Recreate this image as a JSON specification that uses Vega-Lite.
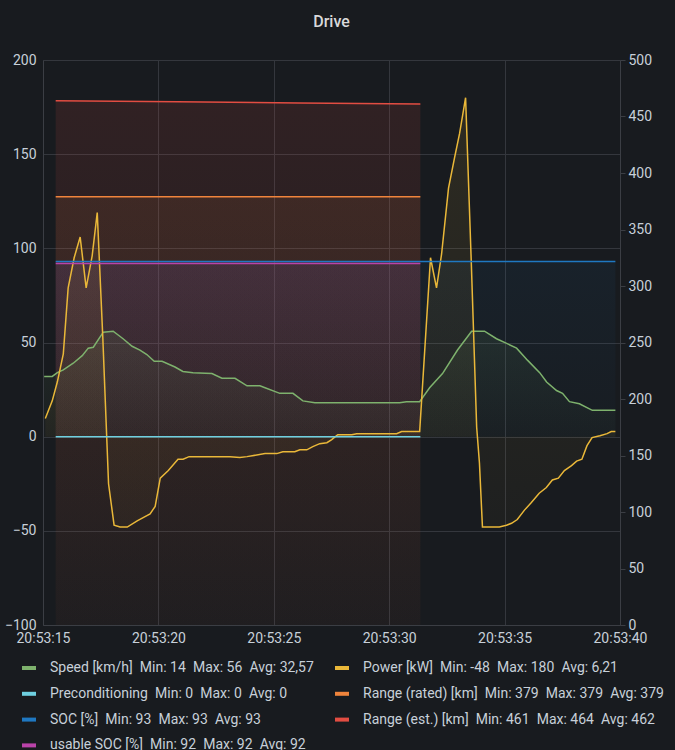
{
  "$schema": "https://vega.github.io/schema/vega-lite/v6.json",
  "width": 577,
  "height": 565,
  "autosize": "none",
  "padding": {"left": 43, "top": 60, "right": 55, "bottom": 125},
  "background": "#181b1f",
  "title": {"text": "Drive", "anchor": "middle", "fontSize": 16, "fontWeight": 500, "color": "#d8d9da", "font": "Roboto", "offset": 23},
  "config": {
    "view": {"stroke": null},
    "axis": {"labelFont": "Roboto", "labelFontSize": 14, "labelColor": "#c7d0d9", "gridColor": "#34373d", "domainColor": "#3b3e44", "tickColor": "#3b3e44", "title": null},
    "legend": {"labelFont": "Roboto", "labelFontSize": 14, "labelColor": "#c7d0d9"}
  },
  "data": {"values": [
    {"s":"speed","t":15.05,"v":32},{"s":"speed","t":15.40,"v":32},{"s":"speed","t":15.62,"v":34},{"s":"speed","t":15.88,"v":35.5},{"s":"speed","t":16.31,"v":39},{"s":"speed","t":16.70,"v":43},{"s":"speed","t":16.96,"v":47},{"s":"speed","t":17.18,"v":47.5},{"s":"speed","t":17.61,"v":55.5},{"s":"speed","t":18.04,"v":56},{"s":"speed","t":18.47,"v":52},{"s":"speed","t":18.86,"v":48},{"s":"speed","t":19.20,"v":46},{"s":"speed","t":19.50,"v":43.6},{"s":"speed","t":19.82,"v":40},{"s":"speed","t":20.16,"v":40},{"s":"speed","t":20.72,"v":37},{"s":"speed","t":21.06,"v":34.6},{"s":"speed","t":21.50,"v":34},{"s":"speed","t":22.32,"v":33.5},{"s":"speed","t":22.75,"v":31},{"s":"speed","t":23.32,"v":31},{"s":"speed","t":23.84,"v":27},{"s":"speed","t":24.40,"v":27},{"s":"speed","t":24.62,"v":26},{"s":"speed","t":25.26,"v":23},{"s":"speed","t":25.83,"v":23},{"s":"speed","t":26.26,"v":19},{"s":"speed","t":26.78,"v":18},{"s":"speed","t":30.45,"v":18},{"s":"speed","t":30.75,"v":18.6},{"s":"speed","t":31.32,"v":18.6},{"s":"speed","t":31.75,"v":26},{"s":"speed","t":32.31,"v":33.5},{"s":"speed","t":32.96,"v":46},{"s":"speed","t":33.57,"v":56},{"s":"speed","t":34.13,"v":56},{"s":"speed","t":34.65,"v":52},{"s":"speed","t":35.09,"v":49.5},{"s":"speed","t":35.52,"v":47},{"s":"speed","t":36.00,"v":40.5},{"s":"speed","t":36.52,"v":34},{"s":"speed","t":36.82,"v":29},{"s":"speed","t":37.25,"v":24.5},{"s":"speed","t":37.51,"v":23},{"s":"speed","t":37.81,"v":18.6},{"s":"speed","t":38.24,"v":17.5},{"s":"speed","t":38.80,"v":14},{"s":"speed","t":39.80,"v":14},
    {"s":"power","t":15.10,"v":9.6},{"s":"power","t":15.40,"v":19},{"s":"power","t":15.62,"v":29},{"s":"power","t":15.88,"v":44},{"s":"power","t":16.09,"v":79},{"s":"power","t":16.35,"v":95},{"s":"power","t":16.61,"v":106},{"s":"power","t":16.87,"v":79},{"s":"power","t":17.13,"v":96},{"s":"power","t":17.35,"v":119},{"s":"power","t":17.59,"v":53},{"s":"power","t":17.84,"v":-25},{"s":"power","t":18.08,"v":-47},{"s":"power","t":18.34,"v":-48},{"s":"power","t":18.65,"v":-48},{"s":"power","t":19.08,"v":-44.7},{"s":"power","t":19.34,"v":-43},{"s":"power","t":19.64,"v":-41},{"s":"power","t":19.86,"v":-37},{"s":"power","t":20.08,"v":-22},{"s":"power","t":20.43,"v":-18},{"s":"power","t":20.85,"v":-12},{"s":"power","t":21.07,"v":-12},{"s":"power","t":21.33,"v":-10.6},{"s":"power","t":23.10,"v":-10.6},{"s":"power","t":23.53,"v":-11},{"s":"power","t":23.84,"v":-10.6},{"s":"power","t":24.62,"v":-9},{"s":"power","t":25.13,"v":-9},{"s":"power","t":25.39,"v":-8},{"s":"power","t":25.91,"v":-8},{"s":"power","t":26.13,"v":-7},{"s":"power","t":26.43,"v":-7},{"s":"power","t":26.69,"v":-5.3},{"s":"power","t":26.99,"v":-3.7},{"s":"power","t":27.30,"v":-3.2},{"s":"power","t":27.51,"v":-1.6},{"s":"power","t":27.77,"v":1},{"s":"power","t":28.38,"v":1},{"s":"power","t":28.59,"v":1.6},{"s":"power","t":30.32,"v":1.6},{"s":"power","t":30.54,"v":2.7},{"s":"power","t":31.32,"v":2.7},{"s":"power","t":31.79,"v":95},{"s":"power","t":32.05,"v":79},{"s":"power","t":32.27,"v":97},{"s":"power","t":32.57,"v":132},{"s":"power","t":32.83,"v":148},{"s":"power","t":33.05,"v":161},{"s":"power","t":33.31,"v":180},{"s":"power","t":33.55,"v":95},{"s":"power","t":33.79,"v":5},{"s":"power","t":33.91,"v":-14},{"s":"power","t":34.04,"v":-48},{"s":"power","t":34.77,"v":-48},{"s":"power","t":35.08,"v":-47},{"s":"power","t":35.30,"v":-46},{"s":"power","t":35.55,"v":-44},{"s":"power","t":35.86,"v":-39},{"s":"power","t":36.16,"v":-35},{"s":"power","t":36.50,"v":-30},{"s":"power","t":36.81,"v":-27},{"s":"power","t":37.07,"v":-23},{"s":"power","t":37.33,"v":-22},{"s":"power","t":37.59,"v":-18},{"s":"power","t":37.90,"v":-15.4},{"s":"power","t":38.12,"v":-13},{"s":"power","t":38.35,"v":-12},{"s":"power","t":38.57,"v":-4.8},{"s":"power","t":38.79,"v":-0.5},{"s":"power","t":39.13,"v":0.5},{"s":"power","t":39.44,"v":1.6},{"s":"power","t":39.62,"v":2.7},{"s":"power","t":39.80,"v":2.7},
    {"s":"precond","t":15.55,"v":0},{"s":"precond","t":31.35,"v":0},
    {"s":"soc","t":15.55,"v":93},{"s":"soc","t":39.80,"v":93},
    {"s":"usoc","t":15.55,"v":92},{"s":"usoc","t":31.35,"v":92},
    {"s":"rated","t":15.55,"v":379},{"s":"rated","t":31.35,"v":379},
    {"s":"est","t":15.55,"v":464},{"s":"est","t":20.82,"v":463},{"s":"est","t":26.08,"v":462},{"s":"est","t":31.35,"v":461}
  ]},
  "encoding": {
    "x": {"field": "t", "type": "quantitative", "scale": {"domain": [15, 40], "nice": false, "zero": false},
      "axis": {"values": [15, 20, 25, 30, 35, 40], "labelExpr": "'20:53:' + datum.value", "grid": true, "ticks": false, "labelPadding": 6, "labelFlush": false, "domain": true}}
  },
  "layer": [
    {
      "encoding": {"y": {"field": "v", "type": "quantitative", "scale": {"domain": [0, 500], "nice": false},
        "axis": {"orient": "right", "values": [0,50,100,150,200,250,300,350,400,450,500], "grid": false, "ticks": true, "tickSize": 5, "labelPadding": 3, "domain": true}}},
      "layer": [
        {"transform": [{"filter": "datum.s == 'est'"}], "mark": {"type": "area", "fill": {"gradient": "linear", "x1": 0, "y1": 0, "x2": 0, "y2": 1, "stops": [{"offset": 0, "color": "rgba(226,77,66,0.12)"}, {"offset": 1, "color": "rgba(226,77,66,0.02)"}]}}, "encoding": {"y2": {"datum": 0}}},
        {"transform": [{"filter": "datum.s == 'rated'"}], "mark": {"type": "area", "fill": {"gradient": "linear", "x1": 0, "y1": 0, "x2": 0, "y2": 1, "stops": [{"offset": 0, "color": "rgba(239,132,60,0.09)"}, {"offset": 1, "color": "rgba(239,132,60,0.02)"}]}}, "encoding": {"y2": {"datum": 0}}},
        {"transform": [{"filter": "datum.s == 'est' || datum.s == 'rated'"}], "mark": {"type": "line", "strokeWidth": 1.5},
          "encoding": {"color": {"field": "s", "type": "nominal",
            "scale": {"domain": ["speed","precond","soc","usoc","power","rated","est"], "range": ["#7EB26D","#6ED0E0","#1F78C1","#BA43A9","#EAB839","#EF843C","#E24D42"]},
            "legend": {"orient": "none", "legendX": -23, "legendY": 599, "columns": 2, "columnPadding": 13, "rowPadding": 8.8, "symbolType": "stroke", "symbolStrokeWidth": 4, "symbolSize": 196, "labelOffset": 12, "labelLimit": 400, "padding": 0, "title": null,
              "labelExpr": "datum.label == 'speed' ? 'Speed [km/h]\u2002Min: 14\u2002Max: 56\u2002Avg: 32,57' : datum.label == 'power' ? 'Power [kW]\u2002Min: -48\u2002Max: 180\u2002Avg: 6,21' : datum.label == 'precond' ? 'Preconditioning\u2002Min: 0\u2002Max: 0\u2002Avg: 0' : datum.label == 'rated' ? 'Range (rated) [km]\u2002Min: 379\u2002Max: 379\u2002Avg: 379' : datum.label == 'soc' ? 'SOC [%]\u2002Min: 93\u2002Max: 93\u2002Avg: 93' : datum.label == 'est' ? 'Range (est.) [km]\u2002Min: 461\u2002Max: 464\u2002Avg: 462' : 'usable SOC [%]\u2002Min: 92\u2002Max: 92\u2002Avg: 92'"}}}}
      ]
    },
    {
      "encoding": {"y": {"field": "v", "type": "quantitative", "scale": {"domain": [-100, 200], "nice": false},
        "axis": {"orient": "left", "values": [-100,-50,0,50,100,150,200], "grid": true, "ticks": false, "labelPadding": 7, "domain": true}}},
      "layer": [
        {"transform": [{"filter": "datum.s == 'usoc'"}], "mark": {"type": "area", "fill": {"gradient": "linear", "x1": 0, "y1": 0, "x2": 0, "y2": 1, "stops": [{"offset": 0, "color": "rgba(186,67,169,0.10)"}, {"offset": 1, "color": "rgba(186,67,169,0.02)"}]}}, "encoding": {"y2": {"datum": 0}}},
        {"transform": [{"filter": "datum.s == 'soc'"}], "mark": {"type": "area", "fill": {"gradient": "linear", "x1": 0, "y1": 0, "x2": 0, "y2": 1, "stops": [{"offset": 0, "color": "rgba(31,120,193,0.07)"}, {"offset": 1, "color": "rgba(31,120,193,0.02)"}]}}, "encoding": {"y2": {"datum": 0}}},
        {"transform": [{"filter": "datum.s == 'speed'"}], "mark": {"type": "area", "fill": {"gradient": "linear", "x1": 0, "y1": 0, "x2": 0, "y2": 1, "stops": [{"offset": 0, "color": "rgba(126,178,109,0.10)"}, {"offset": 1, "color": "rgba(126,178,109,0.02)"}]}}, "encoding": {"y2": {"datum": 0}}},
        {"transform": [{"filter": "datum.s == 'power'"}], "mark": {"type": "area", "fill": {"gradient": "linear", "x1": 0, "y1": 0, "x2": 0, "y2": 1, "stops": [{"offset": 0, "color": "rgba(234,184,57,0.10)"}, {"offset": 1, "color": "rgba(234,184,57,0.03)"}]}}, "encoding": {"y2": {"datum": 0}}},
        {"transform": [{"filter": "datum.s != 'est' && datum.s != 'rated'"}], "mark": {"type": "line", "strokeWidth": 1.5},
          "encoding": {"color": {"field": "s", "type": "nominal",
            "scale": {"domain": ["speed","precond","soc","usoc","power","rated","est"], "range": ["#7EB26D","#6ED0E0","#1F78C1","#BA43A9","#EAB839","#EF843C","#E24D42"]},
            "legend": {"orient": "none", "legendX": -23, "legendY": 599, "columns": 2, "columnPadding": 13, "rowPadding": 8.8, "symbolType": "stroke", "symbolStrokeWidth": 4, "symbolSize": 196, "labelOffset": 12, "labelLimit": 400, "padding": 0, "title": null,
              "labelExpr": "datum.label == 'speed' ? 'Speed [km/h]\u2002Min: 14\u2002Max: 56\u2002Avg: 32,57' : datum.label == 'power' ? 'Power [kW]\u2002Min: -48\u2002Max: 180\u2002Avg: 6,21' : datum.label == 'precond' ? 'Preconditioning\u2002Min: 0\u2002Max: 0\u2002Avg: 0' : datum.label == 'rated' ? 'Range (rated) [km]\u2002Min: 379\u2002Max: 379\u2002Avg: 379' : datum.label == 'soc' ? 'SOC [%]\u2002Min: 93\u2002Max: 93\u2002Avg: 93' : datum.label == 'est' ? 'Range (est.) [km]\u2002Min: 461\u2002Max: 464\u2002Avg: 462' : 'usable SOC [%]\u2002Min: 92\u2002Max: 92\u2002Avg: 92'"}}}}
      ]
    }
  ],
  "resolve": {"scale": {"y": "independent"}}
}
